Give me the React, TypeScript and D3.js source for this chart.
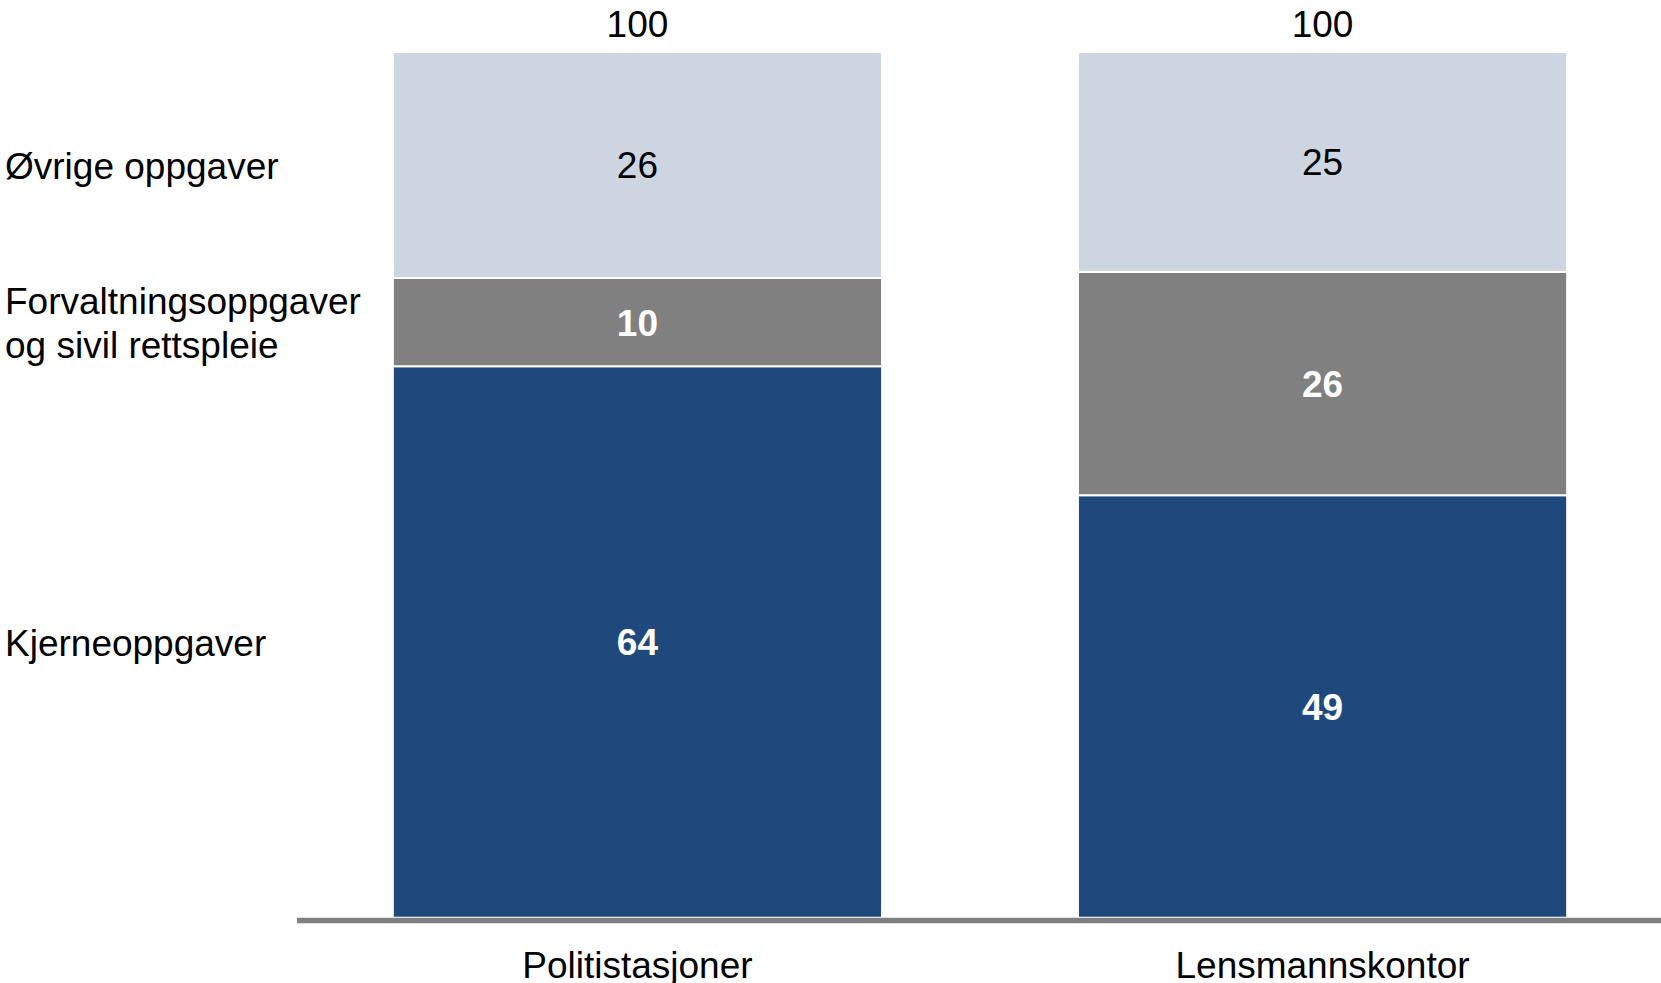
import React from "react";
import * as d3 from "d3";

const categories = ["Politistasjoner", "Lensmannskontor"];
const seriesNames = ["Kjerneoppgaver", "Forvaltningsoppgaver og sivil rettspleie", "Øvrige oppgaver"];
const kjerne = [63.7, 48.8];
const forvaltning = [10.2, 25.8];
const ovrige = [26.1, 25.4];
const totals = [100, 100];
const seriesLabelLines = [["Kjerneoppgaver"], ["Forvaltningsoppgaver", "og sivil rettspleie"], ["Øvrige oppgaver"]];

const colors = ["#1F497D", "#808080", "#CDD5E0"];
const labelColors = ["#FFFFFF", "#FFFFFF", "#000000"];
const labelWeights = ["bold", "bold", "normal"];

const W = 1661;
const H = 983;
const FONT = "'Liberation Sans', Arial, Helvetica, sans-serif";

export default function App() {
  React.useEffect(() => {
    document.body.style.margin = "0";
  }, []);

  const series = [kjerne, forvaltning, ovrige];
  const x = d3.scaleBand<string>().domain(categories).range([299, 1661]).paddingInner(0.286).paddingOuter(0.137);
  const y = d3.scaleLinear().domain([0, 100]).range([917.7, 52]);

  const stackData = categories.map((c, i) => {
    const row: any = { cat: c };
    seriesNames.forEach((s, k) => (row[s] = series[k][i]));
    return row;
  });
  const stacked = d3.stack<any>().keys(seriesNames)(stackData);
  const fmt = d3.format(".0f");

  return (
    <svg width={W} height={H} style={{ display: "block", background: "#fff" }} fontFamily={FONT}>
      {stacked.map((layer, k) => (
        <g key={layer.key}>
          {layer.map((d, i) => (
            <rect
              key={i}
              x={x(categories[i])}
              width={x.bandwidth()}
              y={y(d[1])}
              height={y(d[0]) - y(d[1])}
              fill={colors[k]}
              stroke="#fff"
              strokeWidth={2}
            />
          ))}
        </g>
      ))}
      <line x1={297} x2={1661} y1={920.5} y2={920.5} stroke="#808080" strokeWidth={5.5} />
      {stacked.map((layer, k) => (
        <g key={"l" + layer.key}>
          {layer.map((d, i) => (
            <text
              key={i}
              x={(x(categories[i]) as number) + x.bandwidth() / 2}
              y={(y(d[0]) + y(d[1])) / 2 + 1}
              textAnchor="middle"
              dominantBaseline="central"
              fontSize={37}
              fontWeight={labelWeights[k]}
              fill={labelColors[k]}
            >
              {fmt(series[k][i])}
            </text>
          ))}
        </g>
      ))}
      {categories.map((c, i) => (
        <text
          key={"t" + c}
          x={(x(c) as number) + x.bandwidth() / 2}
          y={y(totals[i]) - 28}
          textAnchor="middle"
          dominantBaseline="central"
          fontSize={37}
          fill="#000"
        >
          {totals[i]}
        </text>
      ))}
      {categories.map((c) => (
        <text
          key={"c" + c}
          x={(x(c) as number) + x.bandwidth() / 2}
          y={965}
          textAnchor="middle"
          dominantBaseline="central"
          fontSize={37}
          fill="#000"
        >
          {c}
        </text>
      ))}
      {stacked.map((layer, k) => {
        const d = layer[0];
        const cy = (y(d[0]) + y(d[1])) / 2 + 1;
        const lines = seriesLabelLines[k];
        const lh = 44;
        return (
          <text key={"s" + k} x={5} fontSize={37} fill="#000" dominantBaseline="central">
            {lines.map((ln, j) => (
              <tspan key={j} x={5} y={cy + (j - (lines.length - 1) / 2) * lh}>
                {ln}
              </tspan>
            ))}
          </text>
        );
      })}
    </svg>
  );
}
